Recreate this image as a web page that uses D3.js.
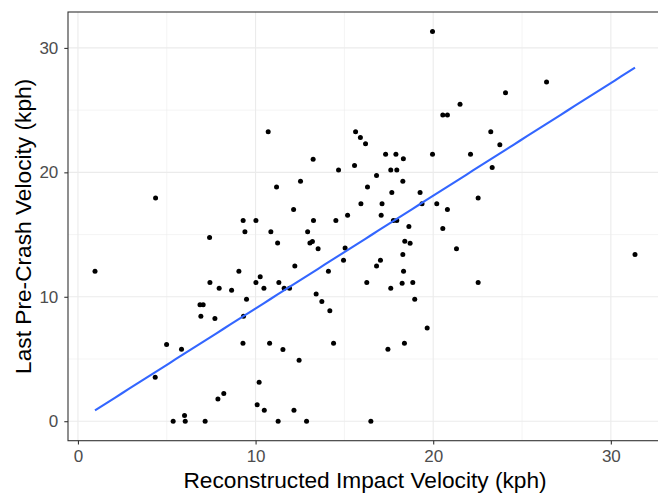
<!DOCTYPE html>
<html>
<head>
<meta charset="utf-8">
<script src="https://cdn.jsdelivr.net/npm/d3@7"></script>
<style>
  body { margin: 0; background: #fff; }
  svg { display: block; font-family: "Liberation Sans", Arial, sans-serif; }
  .grid line { stroke: #ebebeb; }
  .tick-label { fill: #4d4d4d; font-size: 17px; }
  .axis-title { fill: #000; font-size: 22.7px; }
</style>
</head>
<body>
<div id="chart"></div>
<script>
// reconstructed impact velocity (kph)
const impactVelocity = [
  10.71, 19.96, 13.24, 15.63, 15.9, 16.19, 17.32, 17.9, 18.32, 19.96,
  20.54, 20.8, 21.51, 22.1, 24.07, 26.38, 23.24, 23.75, 0.96, 4.37,
  7.41, 9.3, 10.02, 9.4, 10.86, 11.18, 11.24, 9.06, 7.43, 7.95,
  8.65, 9.49, 10.02, 10.26, 10.47, 11.31, 14.67, 15.57, 17.61, 17.95,
  16.81, 18.29, 12.53, 16.3, 17.67, 19.26, 15.93, 17.12, 19.37, 20.2,
  20.8, 22.53, 12.14, 15.18, 17.07, 13.26, 14.52, 17.76, 17.95, 18.63,
  20.54, 12.93, 13.06, 13.2, 13.52, 15.04, 18.4, 18.7, 21.31, 14.95,
  17.03, 16.81, 18.29, 12.21, 14.1, 18.33, 11.61, 11.91, 13.41, 16.26,
  17.61, 18.25, 18.85, 18.96, 22.53, 23.32, 31.36, 6.87, 7.05, 6.92,
  7.71, 9.32, 4.99, 5.83, 9.29, 10.79, 4.35, 10.2, 7.88, 8.21,
  10.09, 10.49, 5.36, 6.04, 6.0, 7.16, 11.27, 13.73, 14.18, 11.54,
  12.45, 14.39, 19.66, 17.45, 18.38, 12.16, 12.87, 16.49
];

// last pre-crash velocity (kph)
const preCrashVelocity = [
  23.26, 31.32, 21.06, 23.26, 22.8, 22.3, 21.46, 21.46, 21.1, 21.46,
  24.6, 24.6, 25.48, 21.46, 26.39, 27.27, 23.26, 22.21, 12.06, 17.93,
  14.76, 16.13, 16.13, 15.22, 15.22, 18.83, 14.33, 12.06, 11.14, 10.69,
  10.53, 9.8, 11.14, 11.6, 10.69, 11.14, 20.18, 20.55, 20.18, 20.18,
  19.74, 19.29, 19.29, 18.83, 18.38, 18.38, 17.47, 17.47, 17.47, 17.47,
  17.01, 17.93, 17.01, 16.56, 16.56, 16.13, 16.13, 16.13, 16.13, 15.64,
  15.48, 15.22, 14.33, 14.44, 13.85, 13.93, 14.47, 14.31, 13.85, 12.94,
  12.94, 12.48, 13.39, 12.48, 12.06, 12.06, 10.69, 10.69, 10.23, 11.14,
  10.69, 11.09, 11.14, 9.8, 11.14, 20.39, 13.39, 9.35, 9.35, 8.44,
  8.25, 8.44, 6.16, 5.79, 6.27, 6.27, 3.54, 3.13, 1.79, 2.22,
  1.33, 0.88, 0, 0, 0.45, 0, 0, 9.62, 8.87, 5.76,
  4.9, 6.27, 7.5, 5.79, 6.27, 0.88, 0, 0
];

const xTicks = [0, 10, 20, 30];
const yTicks = [0, 10, 20, 30];
const xMinor = [5, 15, 25];
const yMinor = [5, 15, 25];

const width = 658;
const height = 494;
const margin = { top: 12, left: 68 };
const innerWidth = 594;
const innerHeight = 428.7;

const points = impactVelocity.map((x, i) => ({ x, y: preCrashVelocity[i] }));

// ggplot-style 5% expansion
function expand(ext) {
  const pad = (ext[1] - ext[0]) * 0.05;
  return [ext[0] - pad, ext[1] + pad];
}

const x = d3.scaleLinear()
  .domain(expand(d3.extent(points, d => d.x)))
  .range([margin.left, margin.left + innerWidth]);

const y = d3.scaleLinear()
  .domain(expand(d3.extent(points, d => d.y)))
  .range([margin.top + innerHeight, margin.top]);

// linear fit through the origin (lm(y ~ 0 + x))
const slope = d3.sum(points, d => d.x * d.y) / d3.sum(points, d => d.x * d.x);
const xExt = d3.extent(points, d => d.x);
const fitLine = d3.range(0, 81).map(i => {
  const xv = xExt[0] + (xExt[1] - xExt[0]) * i / 80;
  return { x: xv, y: slope * xv };
});

const svg = d3.select('#chart').append('svg')
  .attr('width', width)
  .attr('height', height);

svg.append('defs').append('clipPath').attr('id', 'panel-clip')
  .append('rect')
  .attr('x', margin.left).attr('y', margin.top)
  .attr('width', innerWidth).attr('height', innerHeight);

// grid lines
const grid = svg.append('g').attr('class', 'grid');

grid.selectAll('.vminor').data(xMinor).join('line')
  .attr('class', 'vminor')
  .attr('x1', d => x(d)).attr('x2', d => x(d))
  .attr('y1', margin.top).attr('y2', margin.top + innerHeight)
  .attr('stroke-width', 0.55);

grid.selectAll('.hminor').data(yMinor).join('line')
  .attr('class', 'hminor')
  .attr('y1', d => y(d)).attr('y2', d => y(d))
  .attr('x1', margin.left).attr('x2', margin.left + innerWidth)
  .attr('stroke-width', 0.55);

grid.selectAll('.vmajor').data(xTicks).join('line')
  .attr('class', 'vmajor')
  .attr('x1', d => x(d)).attr('x2', d => x(d))
  .attr('y1', margin.top).attr('y2', margin.top + innerHeight)
  .attr('stroke-width', 1.1);

grid.selectAll('.hmajor').data(yTicks).join('line')
  .attr('class', 'hmajor')
  .attr('y1', d => y(d)).attr('y2', d => y(d))
  .attr('x1', margin.left).attr('x2', margin.left + innerWidth)
  .attr('stroke-width', 1.1);

// points
svg.append('g')
  .attr('clip-path', 'url(#panel-clip)')
  .selectAll('circle').data(points).join('circle')
  .attr('cx', d => x(d.x))
  .attr('cy', d => y(d.y))
  .attr('r', 2.5)
  .attr('fill', '#000');

// regression line
svg.append('path')
  .datum(fitLine)
  .attr('fill', 'none')
  .attr('stroke', '#3366FF')
  .attr('stroke-width', 2.1)
  .attr('d', d3.line().x(d => x(d.x)).y(d => y(d.y)));

// panel border
svg.append('rect')
  .attr('x', margin.left).attr('y', margin.top)
  .attr('width', innerWidth).attr('height', innerHeight)
  .attr('fill', 'none')
  .attr('stroke', '#333333')
  .attr('stroke-width', 1.1);

// axes
const xAxis = svg.append('g')
  .attr('transform', `translate(0,${margin.top + innerHeight})`)
  .call(d3.axisBottom(x).tickValues(xTicks).tickSize(3.7).tickPadding(6));
xAxis.select('.domain').remove();
xAxis.selectAll('.tick line').attr('stroke', '#333333').attr('stroke-width', 1.1);
xAxis.selectAll('.tick text')
  .attr('class', 'tick-label')
  .attr('font-size', null).attr('font-family', null).attr('fill', null);

const yAxis = svg.append('g')
  .attr('transform', `translate(${margin.left},0)`)
  .call(d3.axisLeft(y).tickValues(yTicks).tickSize(3.7).tickPadding(6));
yAxis.select('.domain').remove();
yAxis.selectAll('.tick line').attr('stroke', '#333333').attr('stroke-width', 1.1);
yAxis.selectAll('.tick text')
  .attr('class', 'tick-label')
  .attr('font-size', null).attr('font-family', null).attr('fill', null);

// axis titles
svg.append('text')
  .attr('class', 'axis-title')
  .attr('text-anchor', 'middle')
  .attr('x', margin.left + innerWidth / 2)
  .attr('y', 488)
  .text('Reconstructed Impact Velocity (kph)');

svg.append('text')
  .attr('class', 'axis-title')
  .attr('text-anchor', 'middle')
  .attr('transform', `translate(31,${margin.top + innerHeight / 2}) rotate(-90)`)
  .text('Last Pre-Crash Velocity (kph)');
</script>
</body>
</html>
